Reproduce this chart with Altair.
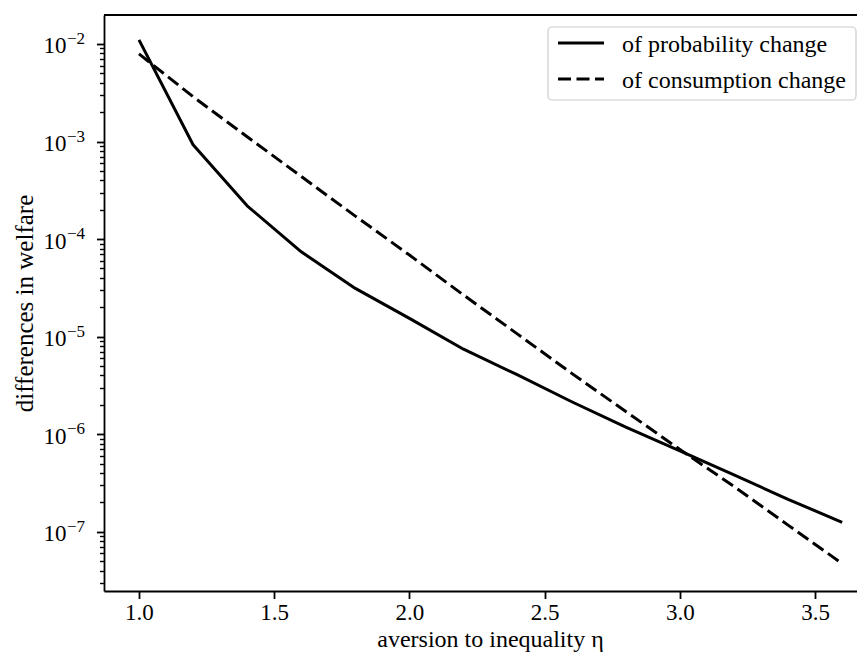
import altair as alt
import pandas as pd

# ---- data ----
eta = [1.0, 1.2, 1.4, 1.6, 1.8, 2.0, 2.2, 2.4, 2.6, 2.8, 3.0, 3.2, 3.4, 3.6]
prob_change = [1.10e-2, 9.25e-4, 2.19e-4, 7.4e-5, 3.12e-5, 1.54e-5, 7.43e-6,
               4.05e-6, 2.15e-6, 1.18e-6, 6.74e-7, 3.83e-7, 2.15e-7, 1.25e-7]
cons_change = [7.90e-3, 2.88e-3, 1.12e-3, 4.38e-4, 1.72e-4, 6.86e-5, 2.67e-5,
               1.06e-5, 4.20e-6, 1.71e-6, 6.97e-7, 2.91e-7, 1.17e-7, 4.72e-8]
series_labels = ["of probability change", "of consumption change"]
x_ticks = [1.0, 1.5, 2.0, 2.5, 3.0, 3.5]
decades = [-2, -3, -4, -5, -6, -7]
x_title = "aversion to inequality η"
y_title = "differences in welfare"

FONT = "Liberation Serif"
W, H = 753, 576
x_dom = [0.8706, 0.8706 + W / 270.45]
y_dom = [2.47e-8, 1.98e-2]

y_ticks_all = []
for d in range(-8, -1):
    for k in range(1, 10):
        v = k * 10.0 ** d
        if y_dom[0] <= v <= y_dom[1]:
            y_ticks_all.append(v)

major_test = "abs(log(datum.value)/LN10 - round(log(datum.value)/LN10)) < 1e-6"

df = pd.DataFrame({
    "eta": eta + eta,
    "value": prob_change + cons_change,
    "series": [series_labels[0]] * len(eta) + [series_labels[1]] * len(eta),
})
one = pd.DataFrame({"k": [0]})

xs = alt.Scale(domain=x_dom, nice=False, zero=False)
ys = alt.Scale(type="log", domain=y_dom, nice=False, zero=False)

x_axis = alt.Axis(
    values=x_ticks, format=".1f", title=x_title, grid=False,
    tickSize=7.5, tickWidth=1.8, tickColor="black",
    domainColor="black", domainWidth=1.8,
    labelFont=FONT, labelFontSize=23, labelColor="black", labelPadding=3,
    labelBaseline="top", labelFlush=False,
    titleFont=FONT, titleFontSize=24, titleFontWeight="normal", titleColor="black",
    titleX=386, titleY=55, titleAlign="center", titleBaseline="alphabetic",
)
y_axis = alt.Axis(
    values=y_ticks_all, title=y_title, grid=False,
    labelExpr=f"({major_test}) ? '10' : ''",
    tickSize={"condition": {"test": major_test, "value": 7.5}, "value": 4.5},
    tickWidth={"condition": {"test": major_test, "value": 1.8}, "value": 1.4},
    tickColor="black", domainColor="black", domainWidth=1.8,
    labelFont=FONT, labelFontSize=23, labelColor="black", labelPadding=30.5,
    labelBaseline="alphabetic", labelOffset=9, labelFlush=False, labelOverlap=False,
    titleFont=FONT, titleFontSize=25, titleFontWeight="normal", titleColor="black",
    titleX=-72, titleY=288, titleAngle=270, titleAlign="center", titleBaseline="alphabetic",
)

base = alt.Chart(df)
solid = base.transform_filter(alt.datum.series == series_labels[0]).mark_line(
    color="black", strokeWidth=3, strokeCap="butt", strokeJoin="round", clip=True
).encode(x=alt.X("eta:Q", scale=xs, axis=x_axis), y=alt.Y("value:Q", scale=ys, axis=y_axis))
dashed = base.transform_filter(alt.datum.series == series_labels[1]).mark_line(
    color="black", strokeWidth=3, strokeDash=[13, 5.5], strokeCap="butt", clip=True
).encode(x=alt.X("eta:Q", scale=xs), y=alt.Y("value:Q", scale=ys))

# exponents of the log tick labels
exp_df = pd.DataFrame({"v": [10.0 ** d for d in decades],
                       "t": ["\u2212" + str(-d) for d in decades]})
exps = alt.Chart(exp_df).mark_text(
    font=FONT, fontSize=17, align="left", baseline="alphabetic", color="black"
).encode(x=alt.value(-37), y=alt.Y("v:Q", scale=ys), text="t:N")

# top spine
top = alt.Chart(one).mark_rule(color="black", strokeWidth=1.8).encode(
    x=alt.value(0), x2=alt.value(W), y=alt.value(0))

# legend
leg_box = alt.Chart(one).mark_rect(
    fill="white", fillOpacity=0.8, stroke="#cccccc", strokeWidth=1.2, cornerRadius=4
).encode(x=alt.value(444), x2=alt.value(752), y=alt.value(12), y2=alt.value(85))
leg_solid = alt.Chart(one).mark_rule(color="black", strokeWidth=3).encode(
    x=alt.value(454), x2=alt.value(500), y=alt.value(28))
leg_dash = alt.Chart(one).mark_rule(color="black", strokeWidth=3, strokeDash=[13, 5.5]).encode(
    x=alt.value(454), x2=alt.value(500), y=alt.value(64))
leg_t1 = alt.Chart(one).mark_text(font=FONT, fontSize=24, align="left", baseline="alphabetic",
                                  color="black").encode(
    x=alt.value(518), y=alt.value(37), text=alt.value(series_labels[0]))
leg_t2 = alt.Chart(one).mark_text(font=FONT, fontSize=24, align="left", baseline="alphabetic",
                                  color="black").encode(
    x=alt.value(518), y=alt.value(73), text=alt.value(series_labels[1]))

chart = alt.layer(solid, dashed, exps, top, leg_box, leg_solid, leg_dash, leg_t1, leg_t2).properties(
    width=W, height=H,
    autosize=alt.AutoSizeParams(type="none"),
    padding={"left": 96, "top": 7, "right": 0, "bottom": 64},
    background="white",
).configure_view(strokeWidth=0, strokeOpacity=0)

chart.save("out.html", embed_options={"renderer": "svg", "actions": False})
